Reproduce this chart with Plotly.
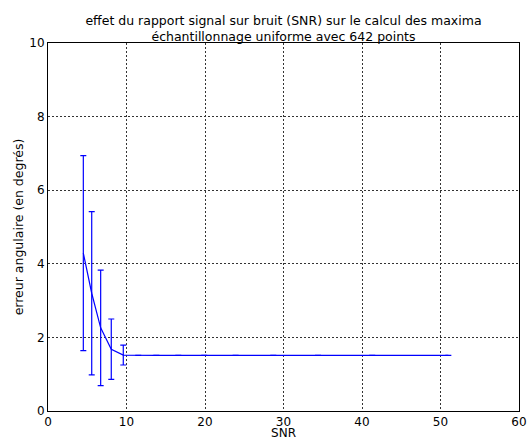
import plotly.graph_objects as go

snr = [4.50, 5.57, 6.71, 8.06, 9.59, 11.5, 13.8, 16.6, 19.9, 23.9, 28.7, 34.4, 41.3, 51.0]
erreur = [4.29, 3.20, 2.26, 1.68, 1.52, 1.51, 1.51, 1.51, 1.51, 1.51, 1.51, 1.51, 1.51, 1.51]
ecart = [2.65, 2.22, 1.57, 0.82, 0.27, 0, 0, 0, 0, 0, 0, 0, 0, 0]

titre = "effet du rapport signal sur bruit (SNR) sur le calcul des maxima<br>échantillonnage uniforme avec 642 points"
x_ticks = [0, 10, 20, 30, 40, 50, 60]
y_ticks = [0, 2, 4, 6, 8, 10]

fig = go.Figure()
fig.add_trace(go.Scatter(
    x=snr, y=erreur, mode="lines",
    line=dict(color="#0000ff", width=1.2),
    error_y=dict(type="data", array=ecart, visible=True, color="#0000ff", thickness=1.2, width=3),
    showlegend=False,
))

font = "DejaVu Sans, Arial, sans-serif"
fig.update_layout(
    width=528, height=440,
    margin=dict(l=48, r=9, t=43, b=29),
    paper_bgcolor="white", plot_bgcolor="white",
    font=dict(family=font, size=12, color="black"),
    title=dict(text=titre, x=283.5 / 528, xanchor="center", y=1 - 25 / 440, yanchor="middle",
               font=dict(family=font, size=12.5, color="black")),
    xaxis=dict(range=[0, 60], tickvals=x_ticks, showgrid=True, gridcolor="#333333", griddash="1.5px,2.5px",
               gridwidth=1, showline=True, linecolor="black", linewidth=1, mirror=True,
               zeroline=False, ticks="", automargin=False,
               title=dict(text="SNR", standoff=0, font=dict(size=12)),
               tickfont=dict(size=12)),
    yaxis=dict(range=[0, 10], tickvals=y_ticks, showgrid=True, gridcolor="#333333", griddash="1.5px,2.5px",
               gridwidth=1, showline=True, linecolor="black", linewidth=1, mirror=True,
               zeroline=False, ticks="", automargin=False,
               title=dict(text="erreur angulaire (en degrés)", standoff=2, font=dict(size=12.5)),
               tickfont=dict(size=12)),
)

fig.write_html("out.html", config={"displayModeBar": False},
               post_script="document.body.style.margin='0';")
